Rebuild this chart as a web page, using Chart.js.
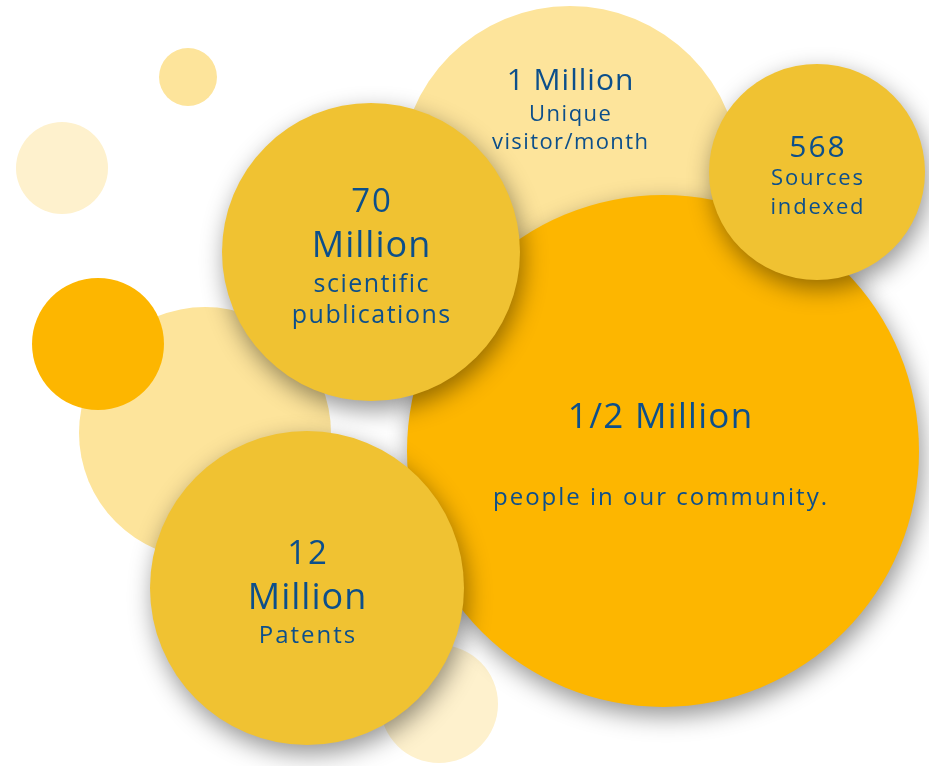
<!DOCTYPE html>
<html>
<head>
<meta charset="utf-8">
<script src="https://cdn.jsdelivr.net/npm/chart.js@4.4.1/dist/chart.umd.min.js"></script>
<style>
    html, body { margin: 0; padding: 0; background: #ffffff; }
    #wrap { width: 929px; height: 766px; position: relative; }
</style>
</head>
<body>
<div id="wrap"><canvas id="grafico"></canvas></div>
<script>
// bubbles, back to front
const nomes   = ["dotTop", "dotLeft", "bigBack", "dotOrange", "visitors", "dotBottom", "community", "publications", "sources", "patents"];
const bolhaX  = [188, 62, 205, 98, 570, 439, 663, 371, 817, 307];
const bolhaY  = [77, 168, 433, 344, 176, 704, 451, 252, 172, 588];
const bolhaR  = [29, 46, 126, 66, 170, 59, 256, 149, 108, 157];

const cores = {
    dotTop: "#fde49b", dotLeft: "#fef1cd", bigBack: "#fde49b", dotOrange: "#fdb600",
    visitors: "#fde49b", dotBottom: "#fef1cd", community: "#fdb600",
    publications: "#f0c232", sources: "#f0c232", patents: "#f0c232"
};
const comSombra = ["community", "publications", "sources", "patents"];

// text lines: [text, px size, letter spacing, y offset from centre]
const linhas = {
    visitors:     [["1 Million", 30, 1, -95], ["Unique", 22, 1.5, -61], ["visitor/month", 22, 1.4, -33]],
    sources:      [["568", 30, 2, -24], ["Sources", 22, 1.8, 7], ["indexed", 22, 1.8, 36]],
    publications: [["70", 33, 2, -49], ["Million", 36, 1, -5], ["scientific", 25, 1.5, 33], ["publications", 25, 1.5, 64]],
    community:    [["1/2 Million", 35, 1.3, -33], ["people in our community.", 24, 2, 47]],
    patents:      [["12", 33, 2, -33], ["Million", 36, 1, 11], ["Patents", 24, 2, 48]]
};

// chart.js draws dataset 0 on top, so push the bubbles in reverse
const datasets = [];
for (let i = nomes.length - 1; i >= 0; i--) {
    const n = nomes[i];
    datasets.push({
        label: n,
        data: [{ x: bolhaX[i], y: bolhaY[i], r: bolhaR[i] }],
        backgroundColor: cores[n],
        borderWidth: 0,
        hoverRadius: 0,
        clip: false,
        sombra: comSombra.includes(n)
    });
}

const sombraPlugin = {
    id: "sombra",
    beforeDatasetDraw(chart, args) {
        const ctx = chart.ctx;
        if (chart.data.datasets[args.index].sombra) {
            ctx.shadowColor = "rgba(0, 0, 0, 0.42)";
            ctx.shadowBlur = 24;
            ctx.shadowOffsetX = 3;
            ctx.shadowOffsetY = 9;
        }
    },
    afterDatasetDraw(chart, args) {
        const ctx = chart.ctx;
        ctx.shadowColor = "rgba(0,0,0,0)";
        ctx.shadowBlur = 0;
        ctx.shadowOffsetX = 0;
        ctx.shadowOffsetY = 0;

        const n = chart.data.datasets[args.index].label;
        if (!linhas[n]) return;
        const pt = args.meta.data[0];
        // text block of the big bubble sits a bit left of its centre
        const dx = n === "community" ? -3 : 0;
        ctx.save();
        ctx.fillStyle = "#0c4f8b";
        ctx.textAlign = "center";
        ctx.textBaseline = "middle";
        linhas[n].forEach(([txt, size, ls, dy]) => {
            ctx.font = `${size}px "Open Sans", sans-serif`;
            ctx.letterSpacing = ls + "px";
            ctx.fillText(txt, pt.x + dx + ls / 2, pt.y + dy);
        });
        ctx.restore();
    }
};

new Chart(document.getElementById("grafico"), {
    type: "bubble",
    data: { datasets: datasets },
    options: {
        responsive: true,
        maintainAspectRatio: false,
        animation: false,
        events: [],
        layout: { padding: 0, autoPadding: false },
        plugins: { legend: { display: false }, tooltip: { enabled: false } },
        scales: {
            x: { type: "linear", min: 0, max: 929, display: false },
            y: { type: "linear", min: 0, max: 766, reverse: true, display: false }
        }
    },
    plugins: [sombraPlugin]
});
</script>
</body>
</html>
